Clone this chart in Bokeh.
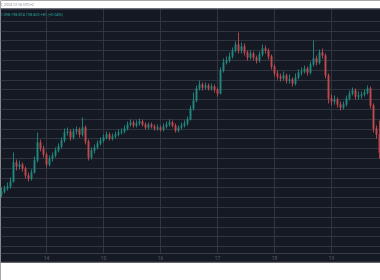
import numpy as np
from bokeh.plotting import figure
from bokeh.models import FixedTicker, Label, Span, ColumnDataSource, BoxAnnotation
from bokeh.embed import file_html
from bokeh.resources import INLINE
from bokeh.core.properties import value

# ---- data ----
opens = [198.06, 198.09, 198.12, 198.14, 198.19, 198.38, 198.34, 198.36, 198.32, 198.25,
         198.22, 198.28, 198.40, 198.58, 198.52, 198.46, 198.36, 198.42, 198.45, 198.50,
         198.54, 198.60, 198.68, 198.69, 198.63, 198.69, 198.71, 198.66, 198.73, 198.59,
         198.43, 198.50, 198.53, 198.57, 198.60, 198.63, 198.66, 198.62, 198.64, 198.66,
         198.68, 198.69, 198.72, 198.76, 198.78, 198.75, 198.77, 198.79, 198.76, 198.73,
         198.76, 198.74, 198.72, 198.73, 198.71, 198.74, 198.76, 198.78, 198.75, 198.70,
         198.73, 198.75, 198.77, 198.81, 198.92, 199.00, 199.12, 199.16, 199.13, 199.15,
         199.12, 199.14, 199.11, 199.07, 199.30, 199.38, 199.40, 199.44, 199.50, 199.56,
         199.50, 199.54, 199.48, 199.43, 199.47, 199.43, 199.40, 199.46, 199.52, 199.50,
         199.44, 199.34, 199.27, 199.24, 199.22, 199.25, 199.20, 199.21, 199.17, 199.23,
         199.28, 199.29, 199.32, 199.28, 199.36, 199.42, 199.38, 199.48, 199.45, 199.25,
         199.02, 198.99, 199.01, 198.96, 198.93, 198.96, 199.02, 199.07, 199.10, 199.04,
         199.05, 199.06, 199.08, 199.12, 198.95, 198.72, 198.66]
closes = [198.09, 198.12, 198.14, 198.19, 198.38, 198.34, 198.36, 198.32, 198.25, 198.22,
          198.28, 198.40, 198.58, 198.52, 198.46, 198.36, 198.42, 198.45, 198.50, 198.54,
          198.60, 198.68, 198.69, 198.63, 198.69, 198.71, 198.66, 198.73, 198.59, 198.43,
          198.50, 198.53, 198.57, 198.60, 198.63, 198.66, 198.62, 198.64, 198.66, 198.68,
          198.69, 198.72, 198.76, 198.78, 198.75, 198.77, 198.79, 198.76, 198.73, 198.76,
          198.74, 198.72, 198.73, 198.71, 198.74, 198.76, 198.78, 198.75, 198.70, 198.73,
          198.75, 198.77, 198.81, 198.92, 199.00, 199.12, 199.16, 199.13, 199.15, 199.12,
          199.14, 199.11, 199.07, 199.30, 199.38, 199.40, 199.44, 199.50, 199.56, 199.50,
          199.54, 199.48, 199.43, 199.47, 199.43, 199.40, 199.46, 199.52, 199.50, 199.44,
          199.34, 199.27, 199.24, 199.22, 199.25, 199.20, 199.21, 199.17, 199.23, 199.28,
          199.29, 199.32, 199.28, 199.36, 199.42, 199.38, 199.48, 199.45, 199.25, 199.02,
          198.99, 199.01, 198.96, 198.93, 198.96, 199.02, 199.07, 199.10, 199.04, 199.05,
          199.06, 199.08, 199.12, 198.95, 198.72, 198.66, 198.48]
highs = [198.13, 198.15, 198.18, 198.23, 198.48, 198.41, 198.40, 198.38, 198.34, 198.28,
         198.31, 198.44, 198.68, 198.61, 198.55, 198.48, 198.45, 198.48, 198.53, 198.57,
         198.63, 198.72, 198.73, 198.71, 198.72, 198.74, 198.73, 198.83, 198.75, 198.61,
         198.53, 198.56, 198.60, 198.63, 198.66, 198.69, 198.68, 198.67, 198.69, 198.71,
         198.72, 198.75, 198.79, 198.81, 198.80, 198.80, 198.82, 198.81, 198.78, 198.78,
         198.78, 198.76, 198.76, 198.75, 198.77, 198.79, 198.81, 198.80, 198.77, 198.75,
         198.78, 198.80, 198.84, 198.95, 199.08, 199.15, 199.20, 199.18, 199.18, 199.17,
         199.17, 199.16, 199.13, 199.33, 199.42, 199.44, 199.48, 199.53, 199.59, 199.68,
         199.58, 199.57, 199.50, 199.50, 199.49, 199.45, 199.49, 199.56, 199.55, 199.52,
         199.46, 199.36, 199.30, 199.27, 199.29, 199.27, 199.26, 199.23, 199.27, 199.31,
         199.33, 199.35, 199.34, 199.39, 199.60, 199.45, 199.51, 199.52, 199.47, 199.27,
         199.06, 199.05, 199.03, 198.99, 198.99, 199.05, 199.10, 199.13, 199.12, 199.09,
         199.09, 199.11, 199.15, 199.14, 198.97, 198.75, 198.80]
lows = [198.03, 198.07, 198.10, 198.12, 198.18, 198.30, 198.31, 198.29, 198.22, 198.19,
        198.20, 198.27, 198.38, 198.49, 198.43, 198.33, 198.34, 198.39, 198.43, 198.48,
        198.52, 198.58, 198.65, 198.60, 198.61, 198.66, 198.63, 198.64, 198.56, 198.40,
        198.41, 198.47, 198.51, 198.55, 198.58, 198.61, 198.60, 198.60, 198.62, 198.64,
        198.66, 198.67, 198.70, 198.74, 198.73, 198.73, 198.75, 198.74, 198.71, 198.71,
        198.72, 198.70, 198.70, 198.69, 198.69, 198.72, 198.74, 198.73, 198.68, 198.68,
        198.71, 198.73, 198.75, 198.80, 198.90, 198.98, 199.10, 199.10, 199.11, 199.10,
        199.10, 199.08, 199.04, 199.06, 199.28, 199.36, 199.38, 199.42, 199.48, 199.47,
        199.47, 199.45, 199.40, 199.41, 199.40, 199.37, 199.38, 199.44, 199.47, 199.41,
        199.31, 199.24, 199.21, 199.19, 199.20, 199.17, 199.17, 199.14, 199.15, 199.21,
        199.25, 199.27, 199.25, 199.26, 199.34, 199.35, 199.36, 199.42, 199.22, 198.97,
        198.95, 198.96, 198.93, 198.90, 198.91, 198.94, 199.00, 199.05, 199.01, 199.01,
        199.02, 199.04, 199.06, 198.92, 198.68, 198.62, 198.42]
day_index = [15, 34, 53, 72, 91, 110]
day_labels = ["14", "15", "16", "17", "18", "19"]
header_text = "1, 2025 12:16 UTC+2"
legend_text = "1.098  198.874  198.820  +81 (+0.04%)"

# ---- layout constants ----
W, H = 380, 280
TOP, BOTTOM = 8, 262            # dark pane in canvas pixels
PX = 0.01                       # price per pixel
Y_END = 200.0                   # canvas top
Y_START = 200 - H * PX          # canvas bottom
STEP = 3.0                      # px per candle
X_START = -1 / STEP
X_END = X_START + W / STEP

BG = "#151924"
GRID = "#31353f"
UP = "#22897f"
DOWN = "#bf4a4d"

n = len(closes)
x = list(range(n))
up = [c >= o for o, c in zip(opens, closes)]
src = ColumnDataSource(dict(
    x=x,
    top=[max(o, c) for o, c in zip(opens, closes)],
    bottom=[min(o, c) for o, c in zip(opens, closes)],
    high=highs, low=lows,
    color=[UP if u else DOWN for u in up],
))

p = figure(width=W, height=H, output_backend="svg", toolbar_location=None,
           x_range=(X_START, X_END), y_range=(Y_START, Y_END),
           min_border_left=0, min_border_right=0,
           min_border_top=0, min_border_bottom=0)
p.xaxis.visible = False
p.yaxis.visible = False
p.background_fill_color = BG
p.border_fill_color = "white"
p.outline_line_color = None

# horizontal grid
grid_top = 200 - 20.7 * PX
p.ygrid.ticker = FixedTicker(ticks=list(grid_top - 9.8 * PX * np.arange(24)))
p.ygrid.grid_line_color = GRID
p.ygrid.grid_line_width = 1
p.xgrid.visible = False

pane_top = 200 - TOP * PX
axis_line = 200 - 253 * PX
# vertical day grid
p.segment(x0=day_index, x1=day_index, y0=[axis_line] * len(day_index),
          y1=[pane_top] * len(day_index), line_color=GRID, line_width=1)
p.add_layout(Span(location=axis_line, dimension="width", line_color="#393d49", line_width=1))

# candles
p.segment(x0="x", x1="x", y0="low", y1="high", line_color="color", line_width=0.9, source=src)
p.vbar(x="x", width=0.45, top="top", bottom="bottom", fill_color="color",
       line_color="color", line_width=0.5, source=src)

# time labels
p.text(x=day_index, y=[200 - 257.5 * PX] * len(day_index), text=day_labels,
       text_font=value("Roboto"), text_font_size="5px", text_color="#5a5e69",
       text_align="center", text_baseline="middle")

# white strips above and below the dark pane
p.add_layout(BoxAnnotation(bottom=pane_top, fill_color="white", fill_alpha=1.0, line_color=None))
p.add_layout(BoxAnnotation(top=200 - BOTTOM * PX, fill_color="white", fill_alpha=1.0,
                           line_color=None))
p.add_layout(Span(location=pane_top - 0.5 * PX, dimension="width", line_color="#50545f",
                  line_width=1))
p.add_layout(Span(location=200 - (BOTTOM - 0.5) * PX, dimension="width", line_color="#3c404b",
                  line_width=1))

# header + legend text
p.add_layout(Label(x=X_START, y=200 - 4 * PX, text=header_text,
                   text_font="Roboto", text_font_size="3.6px",
                   text_color="#7c7f88", text_baseline="middle"))
p.add_layout(Label(x=X_START, y=200 - 13.5 * PX, text=legend_text,
                   text_font="Roboto", text_font_size="3.8px",
                   text_color="#26a69a", text_baseline="middle"))

open("out.html", "w").write(file_html(p, INLINE))
